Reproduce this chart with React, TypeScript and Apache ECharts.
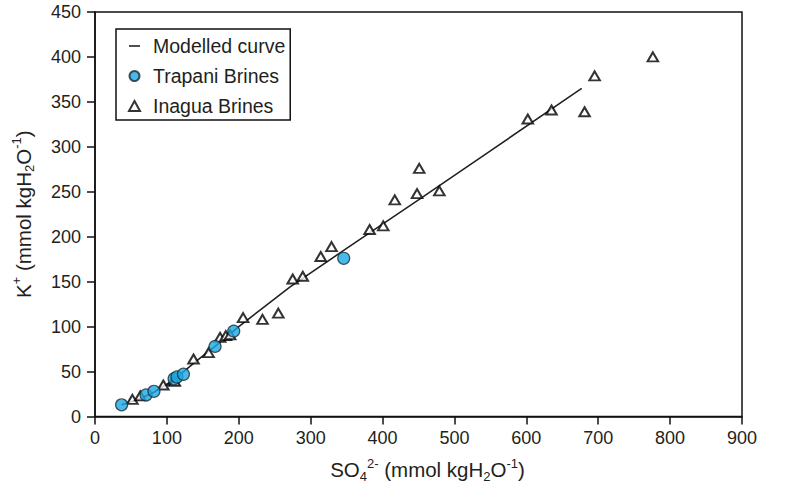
import React, { useEffect, useRef } from "react";
import * as echarts from "echarts";

const xTicks = [0, 100, 200, 300, 400, 500, 600, 700, 800, 900];
const yTicks = [0, 50, 100, 150, 200, 250, 300, 350, 400, 450];

const modelSO4 = [37, 60, 82, 110, 140, 170, 200, 271, 350, 450, 549, 677];
const modelK = [13, 19, 27, 41, 61, 80, 100, 144, 187, 241, 295, 365];

const trapaniSO4 = [37, 71, 82, 110, 114, 123, 167, 193, 346];
const trapaniK = [13, 24, 28, 42, 44, 47, 78, 95, 176];

const inaguaSO4 = [52, 63, 95, 109, 111, 137, 158, 174, 182, 188, 206, 233, 255, 275, 289, 314, 329, 382, 401, 417, 448, 451, 479, 602, 635, 681, 695, 776];
const inaguaK = [19, 23, 35, 40, 39, 64, 71, 88, 90, 91, 110, 108, 115, 153, 156, 178, 189, 208, 212, 241, 248, 276, 251, 331, 341, 339, 379, 400];

const FONT = "'Liberation Sans', Arial, Helvetica, sans-serif";
const INK = "#231f20";

const zip = (a: number[], b: number[]) => a.map((v, i) => [v, b[i]]);

const nameRich = {
  n: { fontSize: 20.5, lineHeight: 26, color: INK, fontFamily: FONT },
  sub: { fontSize: 13, lineHeight: 15, verticalAlign: "bottom", color: INK, fontFamily: FONT },
  sup: { fontSize: 13, lineHeight: 18, verticalAlign: "top", color: INK, fontFamily: FONT },
};

export default function App() {
  const ref = useRef<HTMLDivElement>(null);
  useEffect(() => {
    if (!ref.current) return;
    const chart = echarts.init(ref.current, undefined, { renderer: "svg" });
    chart.setOption({
      animation: false,
      backgroundColor: "#ffffff",
      textStyle: { fontFamily: FONT },
      grid: {
        left: 95,
        right: 43,
        top: 12,
        bottom: 81.5,
        show: true,
        borderColor: "#111",
        borderWidth: 1.5,
        backgroundColor: "transparent",
      },
      legend: {
        orient: "vertical",
        left: 116,
        top: 29,
        borderColor: "#111",
        borderWidth: 1.5,
        padding: [7, 5, 4, 12],
        itemWidth: 11,
        itemHeight: 10,
        itemGap: 10,
        symbolKeepAspect: true,
        textStyle: {
          fontSize: 19.5,
          lineHeight: 20,
          color: INK,
          fontFamily: FONT,
          padding: [0, 0, 0, 8],
        },
        data: [
          { name: "Modelled curve", icon: "path://M0,0 L11,0 L11,1.6 L0,1.6 Z", itemStyle: { color: "#222" } },
          { name: "Trapani Brines" },
          { name: "Inagua Brines" },
        ],
      },
      xAxis: {
        type: "value",
        min: xTicks[0],
        max: xTicks[xTicks.length - 1],
        interval: 100,
        name: "{n|SO}{sub|4}{sup|2-}{n| (mmol kgH}{sub|2}{n|O}{sup|-1}{n|)}",
        nameLocation: "middle",
        nameGap: 40,
        nameTextStyle: { rich: nameRich, padding: [0, 0, 0, 18] },
        axisLine: { show: true, onZero: false, lineStyle: { color: "#111", width: 1.5 } },
        axisTick: { show: true, inside: false, length: 8, lineStyle: { color: "#111", width: 1.5 } },
        axisLabel: { fontSize: 18, color: INK, margin: 12, fontFamily: FONT },
        splitLine: { show: false },
      },
      yAxis: {
        type: "value",
        min: yTicks[0],
        max: yTicks[yTicks.length - 1],
        interval: 50,
        name: "{n|K}{sup|+}{n| (mmol kgH}{sub|2}{n|O}{sup|-1}{n|)}",
        nameLocation: "middle",
        nameGap: 59,
        nameTextStyle: { rich: nameRich },
        axisLine: { show: true, onZero: false, lineStyle: { color: "#111", width: 1.5 } },
        axisTick: { show: true, inside: false, length: 8, lineStyle: { color: "#111", width: 1.5 } },
        axisLabel: { fontSize: 18, color: INK, margin: 14, fontFamily: FONT },
        splitLine: { show: false },
      },
      series: [
        {
          name: "Modelled curve",
          type: "line",
          data: zip(modelSO4, modelK),
          symbol: "none",
          lineStyle: { color: "#222", width: 1.6 },
          itemStyle: { color: "#222" },
          z: 2,
        },
        {
          name: "Inagua Brines",
          type: "scatter",
          data: zip(inaguaSO4, inaguaK),
          symbol: "triangle",
          symbolSize: [10.5, 9],
          itemStyle: { color: "#ffffff", borderColor: "#000", borderWidth: 2 },
          z: 3,
        },
        {
          name: "Trapani Brines",
          type: "scatter",
          data: zip(trapaniSO4, trapaniK),
          symbol: "circle",
          symbolSize: 12,
          itemStyle: { color: "#1ca8e3", borderColor: "#1a2a33", borderWidth: 1.2 },
          z: 4,
        },
      ],
    });
    return () => chart.dispose();
  }, []);
  return (
    <div
      ref={ref}
      style={{ position: "fixed", left: 0, top: 0, width: 785, height: 498, background: "#fff" }}
    />
  );
}
